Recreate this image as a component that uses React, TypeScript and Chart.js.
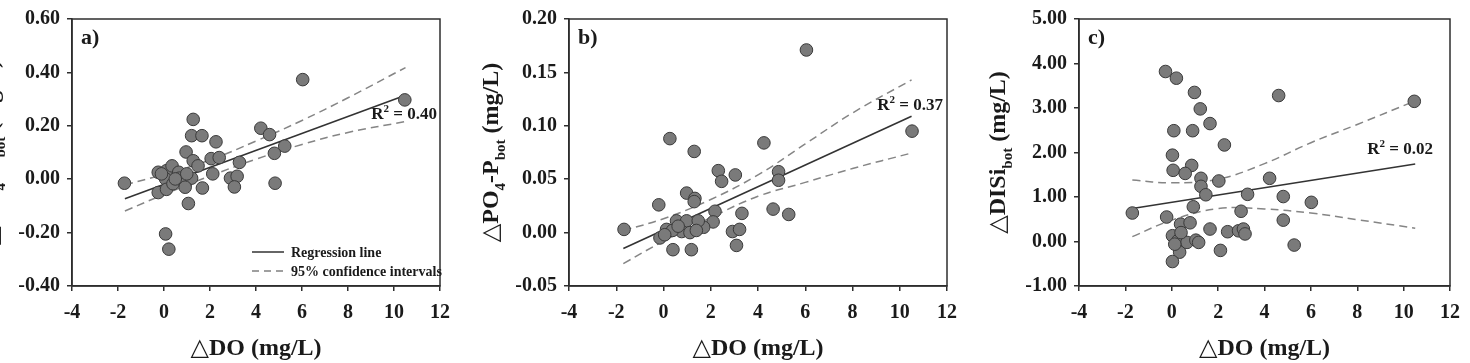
import React, { useEffect, useRef } from 'react';
import { Chart, registerables } from 'chart.js';

Chart.register(...registerables);

// ---------------- data ----------------
const xTicks = [-4, -2, 0, 2, 4, 6, 8, 10, 12];
const yTicksA = [-0.4, -0.2, 0, 0.2, 0.4, 0.6];
const yTicksB = [-0.05, 0, 0.05, 0.1, 0.15, 0.2];
const yTicksC = [-1, 0, 1, 2, 3, 4, 5];

// panel a) ΔNH4-N vs ΔDO
const doA = [-1.72, 6.03, 10.47, 1.27, 1.2, 1.65, 2.26, 4.21, 4.59, 5.25, 4.8, 4.83, 0.96, 1.27, 1.48, 2.05, 2.4, 3.28, 2.12, 2.89, 3.18, 3.06, 1.67, 1.06, 0.07, 0.21, -0.25, -0.25, 0.11, 0.35, 0.07, 0.11, 0.64, 0.68, 0.92, 0.39, 1.2, 0.99, 0.49, -0.11, 0.92];
const nh4A = [-0.015, 0.373, 0.297, 0.224, 0.163, 0.163, 0.14, 0.191, 0.167, 0.124, 0.097, -0.015, 0.102, 0.069, 0.05, 0.077, 0.081, 0.063, 0.02, 0.004, 0.011, -0.029, -0.033, -0.091, -0.205, -0.262, 0.026, -0.05, 0.032, 0.05, 0.001, -0.038, 0.026, 0.004, -0.017, -0.017, 0.004, 0.02, 0.001, 0.02, -0.03];

// panel b) ΔPO4-P vs ΔDO
const doB = [-1.67, 6.05, 10.52, 0.27, 1.3, 4.25, 2.32, 2.46, 3.04, 4.87, 4.87, -0.2, 0.98, 1.33, 1.3, 2.18, 3.32, 4.64, 5.3, 2.1, 1.7, 2.92, 3.22, 3.09, 0.4, 1.18, -0.15, 0.13, 0.55, 0.98, 0.77, 1.12, 1.47, 0.38, 1.39, 0.05, 0.62];
const po4B = [0.003, 0.171, 0.095, 0.088, 0.076, 0.084, 0.058, 0.048, 0.054, 0.057, 0.049, 0.026, 0.037, 0.032, 0.029, 0.02, 0.018, 0.022, 0.017, 0.01, 0.005, 0.001, 0.003, -0.012, -0.016, -0.016, -0.005, 0.003, 0.011, 0.011, 0.001, 0.0, 0.011, 0.002, 0.002, -0.002, 0.006];

// panel c) ΔDISi vs ΔDO
const doC = [-1.7, 4.61, 10.46, 6.02, 4.81, 4.81, 5.28, -0.27, 0.2, 0.98, 1.23, 1.65, 0.09, 0.9, 2.27, 0.03, 0.06, 0.86, 0.58, 1.26, 1.26, 1.47, 2.03, 3.27, 4.22, 0.93, -0.22, 2.99, 0.38, 0.79, 0.03, 0.27, 0.34, 0.03, 0.66, 1.04, 1.16, 1.65, 2.1, 2.41, 2.88, 3.09, 3.16, 0.13, 0.4];
const disiC = [0.64, 3.28, 3.15, 0.88, 1.01, 0.48, -0.08, 3.82, 3.67, 3.35, 2.98, 2.65, 2.49, 2.49, 2.17, 1.94, 1.6, 1.71, 1.53, 1.42, 1.24, 1.05, 1.36, 1.06, 1.42, 0.78, 0.55, 0.68, 0.39, 0.42, 0.13, 0.02, -0.24, -0.45, -0.02, 0.03, -0.02, 0.28, -0.2, 0.22, 0.24, 0.28, 0.17, -0.06, 0.2];

// regression lines
const fitX = [-1.7, 10.5];
const fitA = [-0.073, 0.314];
const fitB = [-0.0148, 0.109];
const fitC = [0.74, 1.74];

// 95% confidence intervals
const ciX = [-1.7, 0, 2, 4, 6, 8, 10.5];
const ciUpperA = [-0.021, 0.018, 0.072, 0.143, 0.22, 0.305, 0.418];
const ciLowerA = [-0.119, -0.057, 0.012, 0.075, 0.13, 0.175, 0.216];
const ciUpperB = [0.002, 0.013, 0.031, 0.054, 0.083, 0.112, 0.143];
const ciLowerB = [-0.029, -0.008, 0.014, 0.034, 0.047, 0.06, 0.0745];
const ciUpperC = [1.38, 1.32, 1.4, 1.75, 2.22, 2.63, 3.16];
const ciLowerC = [0.11, 0.48, 0.74, 0.73, 0.64, 0.49, 0.3];

const r2Labels = ['0.40', '0.37', '0.02'];
const panelLabels = ['a)', 'b)', 'c)'];

// ---------------- drawing helpers ----------------
const FAM = "'Liberation Serif','DejaVu Serif','Times New Roman',serif";
type Seg = { t: string; s?: 'sub' | 'sup' };

function drawRich(ctx: CanvasRenderingContext2D, segs: Seg[], x: number, y: number, size: number, align: 'left' | 'center' | 'right') {
  const small = Math.round(size * 0.62);
  const widths = segs.map((sg) => {
    ctx.font = `bold ${sg.s ? small : size}px ${FAM}`;
    return ctx.measureText(sg.t).width;
  });
  const total = widths.reduce((a, b) => a + b, 0);
  let cx = align === 'center' ? x - total / 2 : align === 'right' ? x - total : x;
  ctx.textAlign = 'left';
  ctx.textBaseline = 'alphabetic';
  segs.forEach((sg, i) => {
    ctx.font = `bold ${sg.s ? small : size}px ${FAM}`;
    const dy = sg.s === 'sub' ? size * 0.3 : sg.s === 'sup' ? -size * 0.42 : 0;
    ctx.fillText(sg.t, cx, y + dy);
    cx += widths[i];
  });
}

type PanelCfg = {
  left: number;
  width: number;
  yAxisWidth: number;
  padRight: number;
  yMin: number;
  yMax: number;
  yTicks: number[];
  xs: number[];
  ys: number[];
  fit: number[];
  ciU: number[];
  ciL: number[];
  label: string;
  r2: string;
  r2Right: number;
  r2Base: number;
  yTitle: Seg[];
  yTitleX: number;
  legend: boolean;
};

const panels: PanelCfg[] = [
  {
    left: -40, width: 500, yAxisWidth: 112, padRight: 10,
    yMin: -0.4, yMax: 0.6, yTicks: yTicksA, xs: doA, ys: nh4A, fit: fitA, ciU: ciUpperA, ciL: ciLowerA,
    label: panelLabels[0], r2: r2Labels[0], r2Right: 3, r2Base: 119,
    yTitle: [{ t: '△NH' }, { t: '4', s: 'sub' }, { t: '-N' }, { t: 'bot', s: 'sub' }, { t: ' (mg/L)' }],
    yTitleX: 38, legend: true,
  },
  {
    left: 460, width: 520, yAxisWidth: 109, padRight: 33,
    yMin: -0.05, yMax: 0.2, yTicks: yTicksB, xs: doB, ys: po4B, fit: fitB, ciU: ciUpperB, ciL: ciLowerB,
    label: panelLabels[1], r2: r2Labels[1], r2Right: 4, r2Base: 110,
    yTitle: [{ t: '△PO' }, { t: '4', s: 'sub' }, { t: '-P' }, { t: 'bot', s: 'sub' }, { t: ' (mg/L)' }],
    yTitleX: 38, legend: false,
  },
  {
    left: 980, width: 490, yAxisWidth: 99, padRight: 13,
    yMin: -1, yMax: 5, yTicks: yTicksC, xs: doC, ys: disiC, fit: fitC, ciU: ciUpperC, ciL: ciLowerC,
    label: panelLabels[2], r2: r2Labels[2], r2Right: 17, r2Base: 154,
    yTitle: [{ t: '△DISi' }, { t: 'bot', s: 'sub' }, { t: ' (mg/L)' }],
    yTitleX: 25, legend: false,
  },
];

const INK = '#1a1a1a';
const AXIS = '#2e2e2e';

function Panel({ cfg }: { cfg: PanelCfg }) {
  const ref = useRef<HTMLCanvasElement>(null);
  useEffect(() => {
    const decor = {
      id: 'decor',
      afterDraw(chart: any) {
        const ctx: CanvasRenderingContext2D = chart.ctx;
        const a = chart.chartArea;
        ctx.save();
        // frame
        ctx.strokeStyle = AXIS;
        ctx.lineWidth = 1.5;
        ctx.strokeRect(a.left, a.top, a.right - a.left, a.bottom - a.top);
        ctx.fillStyle = INK;
        // panel label
        drawRich(ctx, [{ t: cfg.label }], a.left + 9, a.top + 25, 22, 'left');
        // R2
        drawRich(ctx, [{ t: 'R' }, { t: '2', s: 'sup' }, { t: ' = ' + cfg.r2 }], a.right - cfg.r2Right, cfg.r2Base, 17, 'right');
        // x title
        drawRich(ctx, [{ t: '△DO (mg/L)' }], (a.left + a.right) / 2, 355, 24, 'center');
        // y title
        ctx.save();
        ctx.translate(cfg.yTitleX, (a.top + a.bottom) / 2);
        ctx.rotate(-Math.PI / 2);
        drawRich(ctx, cfg.yTitle, 0, 0, 24, 'center');
        ctx.restore();
        // legend
        if (cfg.legend) {
          const lx = a.left + 180;
          const y1 = a.bottom - 34;
          const y2 = a.bottom - 15;
          ctx.lineWidth = 1.5;
          ctx.strokeStyle = '#333';
          ctx.setLineDash([]);
          ctx.beginPath();
          ctx.moveTo(lx, y1);
          ctx.lineTo(lx + 32, y1);
          ctx.stroke();
          ctx.strokeStyle = '#808080';
          ctx.setLineDash([7, 5]);
          ctx.beginPath();
          ctx.moveTo(lx, y2);
          ctx.lineTo(lx + 32, y2);
          ctx.stroke();
          ctx.setLineDash([]);
          drawRich(ctx, [{ t: 'Regression line' }], lx + 39, y1 + 5, 14, 'left');
          drawRich(ctx, [{ t: '95% confidence intervals' }], lx + 39, y2 + 5, 14, 'left');
        }
        ctx.restore();
      },
    };

    const pts = cfg.xs.map((x, i) => ({ x, y: cfg.ys[i] }));
    const fitPts = fitX.map((x, i) => ({ x, y: cfg.fit[i] }));
    const upPts = ciX.map((x, i) => ({ x, y: cfg.ciU[i] }));
    const loPts = ciX.map((x, i) => ({ x, y: cfg.ciL[i] }));

    const tickFont = { family: FAM, size: 20, weight: 'bold' as const };

    const chart = new Chart(ref.current!, {
      type: 'scatter',
      data: {
        datasets: [
          {
            data: pts,
            pointRadius: 6.3,
            pointHoverRadius: 6.3,
            pointBackgroundColor: '#7a7a7a',
            pointBorderColor: '#3a3a3a',
            pointBorderWidth: 1,
          },
          {
            data: fitPts,
            showLine: true,
            pointRadius: 0,
            borderColor: '#333333',
            borderWidth: 1.6,
          },
          {
            data: upPts,
            showLine: true,
            pointRadius: 0,
            borderColor: '#858585',
            borderWidth: 1.5,
            borderDash: [8, 5],
            tension: 0.4,
          },
          {
            data: loPts,
            showLine: true,
            pointRadius: 0,
            borderColor: '#858585',
            borderWidth: 1.5,
            borderDash: [8, 5],
            tension: 0.4,
          },
        ] as any,
      },
      options: {
        animation: false,
        responsive: false,
        events: [],
        layout: { padding: { left: 0, right: cfg.padRight, top: 14, bottom: 0 }, autoPadding: false } as any,
        plugins: { legend: { display: false }, tooltip: { enabled: false } },
        scales: {
          x: {
            type: 'linear',
            min: -4,
            max: 12,
            afterBuildTicks: (s: any) => {
              s.ticks = xTicks.map((v) => ({ value: v }));
            },
            afterFit: (s: any) => {
              s.height = 77;
            },
            grid: { drawOnChartArea: false, drawTicks: true, tickLength: 5, color: AXIS, lineWidth: 1.5 },
            border: { display: true, color: AXIS, width: 1.5 },
            ticks: { font: tickFont, color: INK, padding: 10, maxRotation: 0, autoSkip: false, callback: (v: any) => String(v) },
          },
          y: {
            type: 'linear',
            min: cfg.yMin,
            max: cfg.yMax,
            afterBuildTicks: (s: any) => {
              s.ticks = cfg.yTicks.map((v) => ({ value: v }));
            },
            afterFit: (s: any) => {
              s.width = cfg.yAxisWidth;
            },
            grid: { drawOnChartArea: false, drawTicks: true, tickLength: 5, color: AXIS, lineWidth: 1.5 },
            border: { display: true, color: AXIS, width: 1.5 },
            ticks: { font: tickFont, color: INK, padding: 7, autoSkip: false, callback: (v: any) => Number(v).toFixed(2) },
          },
        },
      },
      plugins: [decor],
    });
    return () => chart.destroy();
  }, [cfg]);

  return (
    <div style={{ position: 'absolute', left: cfg.left, top: 0, width: cfg.width, height: 363 }}>
      <canvas ref={ref} width={cfg.width} height={363} style={{ width: cfg.width, height: 363, display: 'block' }} />
    </div>
  );
}

export default function App() {
  return (
    <div style={{ position: 'absolute', left: 0, top: 0, width: 1470, height: 363, overflow: 'hidden', background: '#fff' }}>
      {panels.map((p, i) => (
        <Panel key={i} cfg={p} />
      ))}
    </div>
  );
}
